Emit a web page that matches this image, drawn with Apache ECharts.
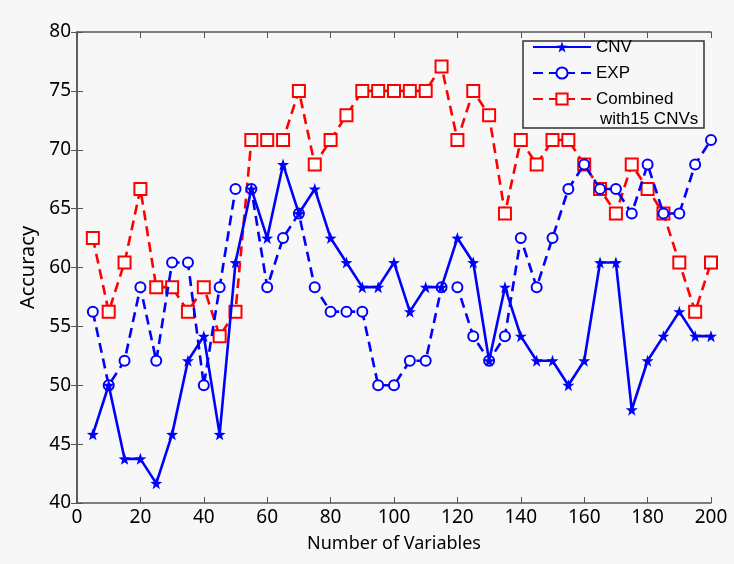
<!DOCTYPE html>
<html>
<head>
<meta charset="utf-8">
<script src="https://cdn.jsdelivr.net/npm/echarts@6/dist/echarts.min.js"></script>
<style>
  html, body { margin: 0; padding: 0; background: #f7f7f7; }
  #main { width: 734px; height: 564px; }
</style>
</head>
<body>
<div id="main"></div>
<script>
// number of variables (x)
var numVars = [5, 10, 15, 20, 25, 30, 35, 40, 45, 50,
	55, 60, 65, 70, 75, 80, 85, 90, 95, 100,
	105, 110, 115, 120, 125, 130, 135, 140, 145, 150,
	155, 160, 165, 170, 175, 180, 185, 190, 195, 200];

var cnvAcc = [45.83, 50, 43.75, 43.75, 41.67, 45.83, 52.08, 54.17, 45.83, 60.42,
	66.67, 62.5, 68.75, 64.58, 66.67, 62.5, 60.42, 58.33, 58.33, 60.42,
	56.25, 58.33, 58.33, 62.5, 60.42, 52.08, 58.33, 54.17, 52.08, 52.08,
	50, 52.08, 60.42, 60.42, 47.92, 52.08, 54.17, 56.25, 54.17, 54.17];

var expAcc = [56.25, 50, 52.08, 58.33, 52.08, 60.42, 60.42, 50, 58.33, 66.67,
	66.67, 58.33, 62.5, 64.58, 58.33, 56.25, 56.25, 56.25, 50, 50,
	52.08, 52.08, 58.33, 58.33, 54.17, 52.08, 54.17, 62.5, 58.33, 62.5,
	66.67, 68.75, 66.67, 66.67, 64.58, 68.75, 64.58, 64.58, 68.75, 70.83];

var combAcc = [62.5, 56.25, 60.42, 66.67, 58.33, 58.33, 56.25, 58.33, 54.17, 56.25,
	70.83, 70.83, 70.83, 75, 68.75, 70.83, 72.92, 75, 75, 75,
	75, 75, 77.08, 70.83, 75, 72.92, 64.58, 70.83, 68.75, 70.83,
	70.83, 68.75, 66.67, 64.58, 68.75, 66.67, 64.58, 60.42, 56.25, 60.42];

function pairs(xs, ys) {
	var out = [];
	for (var i = 0; i < xs.length; i++) {
		out.push([xs[i], ys[i]]);
	}
	return out;
}

var starPath = 'path://M0,-10 L2.35,-3.24 L9.51,-3.09 L3.8,1.24 L5.88,8.09 L0,4 L-5.88,8.09 L-3.8,1.24 L-9.51,-3.09 L-2.35,-3.24 Z';
var axisColor = '#555555';
var axisFont = "'Noto Sans', sans-serif";
var legendFont = "'Liberation Sans', Arial, sans-serif";

var myChart = echarts.init(document.getElementById('main'));

var option = {
	backgroundColor : '#f7f7f7',
	animation : false,
	grid : {
		left : 77,
		right : 23,
		top : 32,
		bottom : 61
	},
	legend : {
		orient : 'vertical',
		left : 532,
		top : 38,
		padding : 0,
		itemGap : 8,
		itemWidth : 58,
		itemHeight : 14,
		z : 10,
		data : [ 'CNV', 'EXP', 'Combined' ],
		textStyle : {
			fontSize : 17,
			lineHeight : 18,
			fontFamily : legendFont,
			color : '#000'
		}
	},
	graphic : [ {
		type : 'rect',
		z : 5,
		shape : { x : 523, y : 41, width : 181, height : 87 },
		style : { fill : '#f7f7f7', stroke : '#333', lineWidth : 1.5 }
	}, {
		type : 'text',
		z : 11,
		left : 600,
		top : 111,
		style : {
			text : 'with15 CNVs',
			font : '17px ' + legendFont,
			fill : '#000'
		}
	} ],
	xAxis : [ {
		type : 'value',
		min : 0,
		max : 200,
		interval : 20,
		name : 'Number of Variables',
		nameLocation : 'middle',
		nameGap : 32,
		nameTextStyle : { fontSize : 18, fontFamily : axisFont, color : '#000' },
		axisLine : { lineStyle : { color : axisColor, width : 1.5 } },
		axisTick : { inside : true, length : 6, lineStyle : { color : axisColor } },
		axisLabel : { fontSize : 19, fontFamily : axisFont, color : '#000', margin : 5 },
		splitLine : { show : false }
	}, {
		type : 'value',
		position : 'top',
		min : 0,
		max : 200,
		interval : 20,
		axisLine : { lineStyle : { color : axisColor, width : 1.5 } },
		axisTick : { inside : true, length : 6, lineStyle : { color : axisColor } },
		axisLabel : { show : false },
		splitLine : { show : false }
	} ],
	yAxis : [ {
		type : 'value',
		min : 40,
		max : 80,
		interval : 5,
		name : 'Accuracy',
		nameLocation : 'middle',
		nameGap : 36,
		nameTextStyle : { fontSize : 20, fontFamily : axisFont, color : '#000' },
		axisLine : { lineStyle : { color : axisColor, width : 1.5 } },
		axisTick : { inside : true, length : 6, lineStyle : { color : axisColor } },
		axisLabel : { fontSize : 19, fontFamily : axisFont, color : '#000', margin : 6 },
		splitLine : { show : false }
	}, {
		type : 'value',
		position : 'right',
		min : 40,
		max : 80,
		interval : 5,
		axisLine : { lineStyle : { color : axisColor, width : 1.5 } },
		axisTick : { inside : true, length : 6, lineStyle : { color : axisColor } },
		axisLabel : { show : false },
		splitLine : { show : false }
	} ],
	series : [ {
		name : 'CNV',
		type : 'line',
		data : pairs(numVars, cnvAcc),
		symbol : starPath,
		symbolSize : 12,
		color : '#0000ff',
		lineStyle : { color : '#0000ff', width : 2.6 },
		itemStyle : { color : '#0000ff' },
		z : 4
	}, {
		name : 'EXP',
		type : 'line',
		data : pairs(numVars, expAcc),
		symbol : 'emptyCircle',
		symbolSize : 10,
		color : '#0000ff',
		lineStyle : { color : '#0000ff', width : 2.6, type : [ 10, 6 ] },
		itemStyle : { color : '#0000ff', borderWidth : 2 },
		z : 3
	}, {
		name : 'Combined',
		type : 'line',
		data : pairs(numVars, combAcc),
		symbol : 'emptyRect',
		symbolSize : 12,
		color : '#ff0000',
		lineStyle : { color : '#ff0000', width : 2.6, type : [ 10, 6 ] },
		itemStyle : { color : '#ff0000', borderWidth : 2 },
		z : 2
	} ]
};

myChart.setOption(option);
</script>
</body>
</html>
